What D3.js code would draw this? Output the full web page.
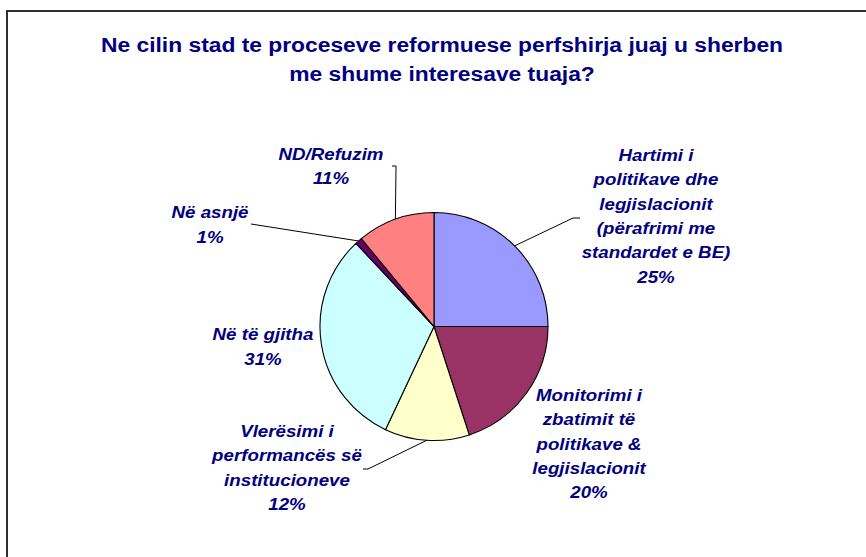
<!DOCTYPE html>
<html>
<head>
<meta charset="utf-8">
<script src="https://cdn.jsdelivr.net/npm/d3@7"></script>
<style>
  body { margin: 0; background: #fff; }
  svg { display: block; }
  text { font-family: Arial, "Liberation Sans", sans-serif; fill: #000080; font-weight: bold; }
</style>
</head>
<body>
<script>
const width = 866;
const height = 557;

// chart data
const titleLines = ['Ne cilin stad te proceseve reformuese perfshirja juaj u sherben', 'me shume interesave tuaja?'];
const categories = [
  'Hartimi i politikave dhe legjislacionit (përafrimi me standardet e BE)',
  'Monitorimi i zbatimit të politikave & legjislacionit',
  'Vlerësimi i performancës së institucioneve',
  'Në të gjitha',
  'Në asnjë',
  'ND/Refuzim'
];
const values = [25, 20, 12, 31, 1, 11];
const labelLines = [
  ['Hartimi i', 'politikave dhe', 'legjislacionit', '(përafrimi me', 'standardet e BE)'],
  ['Monitorimi i', 'zbatimit të', 'politikave &', 'legjislacionit'],
  ['Vlerësimi i', 'performancës së', 'institucioneve'],
  ['Në të gjitha'],
  ['Në asnjë'],
  ['ND/Refuzim']
];

const colors = ['#9999FF', '#993366', '#FFFFCC', '#CCFFFF', '#660066', '#FF8080'];

// label placement (first baseline, centre x, leader elbow + end on label side)
const labelPos = [
  { x: 656, y: 160.7, leader: [[573, 218], [580, 218]] },
  { x: 589, y: 400.7, leader: null },
  { x: 287, y: 437, leader: [[368, 469], [363, 469]] },
  { x: 263, y: 340.3, leader: null },
  { x: 210, y: 218.3, leader: [[251, 224]] },
  { x: 331, y: 159.5, leader: [[396, 166], [392, 166]] }
];

const stretch = 1.17;
const lineH = 24.4;
const cx = 434, cy = 326.5, r = 114;

const svg = d3.select('body').append('svg')
  .attr('width', width)
  .attr('height', height);

svg.append('rect')
  .attr('x', 7)
  .attr('y', 11)
  .attr('width', 900)
  .attr('height', 600)
  .attr('fill', '#fff')
  .attr('stroke', '#1a1a1a')
  .attr('stroke-width', 1.8);

svg.append('g')
  .selectAll('text')
  .data(titleLines)
  .enter().append('text')
    .attr('transform', (d, i) => `translate(442,${52 + i * 29}) scale(${stretch},1)`)
    .attr('text-anchor', 'middle')
    .style('font-size', '19.5px')
    .text(d => d);

const color = d3.scaleOrdinal().domain(categories).range(colors);

const pie = d3.pie().sort(null).value(d => d.value);
const arcs = pie(categories.map((c, i) => ({ name: c, value: values[i], idx: i })));
const arc = d3.arc().innerRadius(0).outerRadius(r);

const g = svg.append('g').attr('transform', `translate(${cx},${cy})`);

g.selectAll('path')
  .data(arcs)
  .enter().append('path')
    .attr('d', arc)
    .attr('fill', d => color(d.data.name))
    .attr('stroke', '#000')
    .attr('stroke-width', 1.1)
    .attr('stroke-linejoin', 'round');

// leader lines, starting on the rim at the middle of each slice
const rim = d => {
  const a = (d.startAngle + d.endAngle) / 2;
  return [cx + r * Math.sin(a), cy - r * Math.cos(a)];
};

svg.append('g')
  .selectAll('path')
  .data(arcs.filter(d => labelPos[d.data.idx].leader))
  .enter().append('path')
    .attr('d', d => d3.line()([rim(d), ...labelPos[d.data.idx].leader]))
    .attr('fill', 'none')
    .attr('stroke', '#000')
    .attr('stroke-width', 1);

const labels = svg.append('g')
  .selectAll('g')
  .data(arcs)
  .enter().append('g');

labels.selectAll('text')
  .data(d => labelLines[d.data.idx].concat(`${d.data.value}%`)
    .map((t, k) => ({ t, k, p: labelPos[d.data.idx] })))
  .enter().append('text')
    .attr('transform', d => `translate(${d.p.x},${d.p.y + d.k * lineH}) scale(${stretch},1)`)
    .attr('text-anchor', 'middle')
    .style('font-size', '16px')
    .style('font-style', 'italic')
    .text(d => d.t);
</script>
</body>
</html>
